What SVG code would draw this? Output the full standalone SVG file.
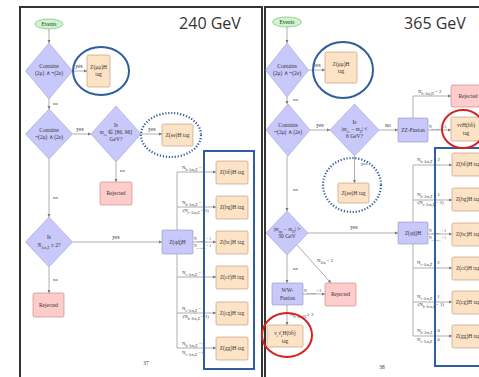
<svg xmlns="http://www.w3.org/2000/svg" width="479" height="377" viewBox="0 0 479 377">
<defs>
<marker id="ah" viewBox="0 0 6 6" refX="6" refY="3" markerWidth="4" markerHeight="4" orient="auto"><path d="M0,0 L6,3 L0,6 z" fill="#777"/></marker>
<style>
text{font-family:"Liberation Serif",serif;font-size:5.5px;fill:#333;text-anchor:middle}
.lab{font-size:4.8px;text-anchor:start}
.s{font-size:3.5px}
.ttl{font-family:"Open Sans",sans-serif;font-size:16px;fill:#333;text-anchor:middle}
.dia{fill:#c8c8fa;stroke:#a0a0d0;stroke-width:0.6}
.lav{fill:#c8c8fa;stroke:#9090c0;stroke-width:0.6}
.org{fill:#fde3c6;stroke:#c09070;stroke-width:0.6}
.rej{fill:#ffcccc;stroke:#c08080;stroke-width:0.6}
.evt{fill:#ccf5cc;stroke:#70b070;stroke-width:0.6}
.ln{stroke:#999;stroke-width:0.8;fill:none}
.ar{stroke:#999;stroke-width:0.8;fill:none;marker-end:url(#ah)}
.be{fill:none;stroke:#2f5d9e;stroke-width:2}
.bd{fill:none;stroke:#2f5d9e;stroke-width:2.2;stroke-dasharray:1.2 1.8}
.re{fill:none;stroke:#d82020;stroke-width:2}
.pg{stroke:#333;stroke-width:2;fill:none}
</style>
</defs>
<rect width="479" height="377" fill="#fff"/>
<g id="pages">
<path class="pg" d="M20,377 V7 H262 V377"/>
<path class="pg" d="M265,377 V7 H479"/>
<text class="ttl" x="210" y="29">240 GeV</text>
<text class="ttl" x="435" y="29">365 GeV</text>
<text x="146" y="365">37</text>
<text x="382" y="369">38</text>
</g>
<g id="connectors">
<path class="ar" d="M49,29 V43"/>
<path class="ar" d="M72.5,71 H87"/>
<path class="ar" d="M49,99 V109"/>
<path class="ar" d="M72.5,134 H91"/>
<path class="ar" d="M141,134 H162"/>
<path class="ar" d="M116,162 V182"/>
<path class="ar" d="M49,159 V217"/>
<path class="ar" d="M72.5,242 H162"/>
<path class="ar" d="M49,267 V293"/>
<path class="ln" d="M177,230 V172 M177,254 V348"/>
<path class="ar" d="M177,172 H216"/>
<path class="ar" d="M177,207 H216"/>
<path class="ar" d="M193,242 H216"/>
<path class="ar" d="M177,277 H216"/>
<path class="ar" d="M177,313 H216"/>
<path class="ar" d="M177,348 H216"/>
<path class="ar" d="M287,27 V43"/>
<path class="ar" d="M308.5,70 H325"/>
<path class="ar" d="M287,97 V104"/>
<path class="ar" d="M310,130 H330"/>
<path class="ar" d="M379,130 H398"/>
<path class="ar" d="M413,118 V96 H451"/>
<path class="ar" d="M428,130 H451"/>
<path class="ar" d="M354.5,156 V183"/>
<path class="ar" d="M287,156 V211"/>
<path class="ar" d="M308,233 H398"/>
<path class="ln" d="M413,222 V165 M413,244 V336"/>
<path class="ar" d="M413,165 H452"/>
<path class="ar" d="M413,200 H452"/>
<path class="ar" d="M428,234 H452"/>
<path class="ar" d="M413,268 H452"/>
<path class="ar" d="M413,302 H452"/>
<path class="ar" d="M413,336 H452"/>
<path class="ar" d="M287,255 V283"/>
<path class="ar" d="M297,245 L331,283"/>
<path class="ar" d="M303,294 H325"/>
<path class="ar" d="M287,305 V325"/>
<text x="79" y="68">yes</text>
<text x="53" y="105" class="lab">no</text>
<text x="80" y="131">yes</text>
<text x="152" y="131">yes</text>
<text x="120" y="172" class="lab">no</text>
<text x="53" y="199" class="lab">no</text>
<text x="116" y="239">yes</text>
<text x="53" y="281" class="lab">no</text>
<text class="lab" x="182" y="169">N<tspan class="s" baseline-shift="sub">b−Jets,Z</tspan> = 2</text>
<text class="lab" x="182" y="204">N<tspan class="s" baseline-shift="sub">b−Jets,Z</tspan> = 1</text>
<text class="lab" x="180" y="212">¬(N<tspan class="s" baseline-shift="sub">c−Jets,Z</tspan> = 1)</text>
<text class="lab" x="194" y="240" style="font-size:3.6px">N<tspan class="s" style="font-size:2.6px" baseline-shift="sub">c−Jets,Z</tspan> = 1</text>
<text class="lab" x="194" y="247" style="font-size:3.6px">N<tspan class="s" style="font-size:2.6px" baseline-shift="sub">b−Jets,Z</tspan> = 1</text>
<text class="lab" x="182" y="274">N<tspan class="s" baseline-shift="sub">c−Jets,Z</tspan> = 2</text>
<text class="lab" x="182" y="310">N<tspan class="s" baseline-shift="sub">c−Jets,Z</tspan> = 1</text>
<text class="lab" x="180" y="318">¬(N<tspan class="s" baseline-shift="sub">b−Jets,Z</tspan> = 1)</text>
<text class="lab" x="182" y="345">N<tspan class="s" baseline-shift="sub">b−Jets,Z</tspan> = 0</text>
<text class="lab" x="182" y="354">N<tspan class="s" baseline-shift="sub">c−Jets,Z</tspan> = 0</text>
<text x="317" y="67">yes</text>
<text x="293" y="101" class="lab">no</text>
<text x="320" y="127">yes</text>
<text x="388" y="127">no</text>
<text class="lab" x="418" y="93">N<tspan class="s" baseline-shift="sub">b−Jets,H</tspan> &lt; 2</text>
<text class="lab" x="429" y="128" style="font-size:3.6px">N<tspan class="s" style="font-size:2.6px" baseline-shift="sub">b−Jets,H</tspan> ≥ 2</text>
<text x="361" y="165" class="lab">yes</text>
<text x="293" y="191" class="lab">no</text>
<text x="354" y="229">yes</text>
<text class="lab" x="417" y="161">N<tspan class="s" baseline-shift="sub">b−Jets,Z</tspan> = 2</text>
<text class="lab" x="417" y="196">N<tspan class="s" baseline-shift="sub">b−Jets,Z</tspan> = 1</text>
<text class="lab" x="415" y="204">¬(N<tspan class="s" baseline-shift="sub">c−Jets,Z</tspan> = 1)</text>
<text class="lab" x="429" y="232" style="font-size:3.6px">N<tspan class="s" style="font-size:2.6px" baseline-shift="sub">c−Jets,Z</tspan> = 1</text>
<text class="lab" x="429" y="239" style="font-size:3.6px">N<tspan class="s" style="font-size:2.6px" baseline-shift="sub">b−Jets,Z</tspan> = 1</text>
<text class="lab" x="417" y="264">N<tspan class="s" baseline-shift="sub">c−Jets,Z</tspan> = 2</text>
<text class="lab" x="417" y="298">N<tspan class="s" baseline-shift="sub">c−Jets,Z</tspan> = 1</text>
<text class="lab" x="415" y="306">¬(N<tspan class="s" baseline-shift="sub">b−Jets,Z</tspan> = 1)</text>
<text class="lab" x="417" y="332">N<tspan class="s" baseline-shift="sub">b−Jets,Z</tspan> = 0</text>
<text class="lab" x="417" y="341">N<tspan class="s" baseline-shift="sub">c−Jets,Z</tspan> = 0</text>
<text x="293" y="270" class="lab">no</text>
<text class="lab" x="317" y="262">N<tspan class="s" baseline-shift="sub">Jets</tspan> &lt; 2</text>
<text class="lab" x="304" y="292" style="font-size:3.6px">N<tspan class="s" style="font-size:2.6px" baseline-shift="sub">b−Jets,H</tspan> &lt; 2</text>
<text class="lab" x="290" y="316">N<tspan class="s" baseline-shift="sub">b−Jets,H</tspan> ≥ 2</text>
</g>
<g id="L_events"><ellipse class="evt" cx="49" cy="24" rx="14" ry="5"/><text x="49" y="26">Events</text></g>
<g id="L_d1"><polygon class="dia" points="49,43 72.5,71 49,99 25.5,71"/><text x="49" y="68">Contains</text><text x="49" y="75">(2μ) ∧ ¬(2e)</text></g>
<g id="L_zmm"><rect class="org" x="87" y="55" width="23" height="32" rx="1.5"/><text x="98.5" y="69">Z(μμ)H</text><text x="98.5" y="76">tag</text></g>
<g id="L_d2"><polygon class="dia" points="49,109 72.5,134 49,159 25.5,134"/><text x="49" y="132">Contains</text><text x="49" y="139">¬(2μ) ∧ (2e)</text></g>
<g id="L_d3"><polygon class="dia" points="116,106 141,134 116,162 91,134"/><text x="116" y="127">Is</text><text x="116" y="134"><tspan font-style="italic">m</tspan><tspan class="s" baseline-shift="sub">ee</tspan> ∈ [86, 96]</text><text x="116" y="141">GeV?</text></g>
<g id="L_zee"><rect class="org" x="162" y="124" width="31" height="22" rx="1.5"/><text x="177.5" y="137">Z(ee)H tag</text></g>
<g id="L_rej1"><rect class="rej" x="100" y="182" width="32" height="23" rx="1.5"/><text x="116" y="195">Rejected</text></g>
<g id="L_d4"><polygon class="dia" points="49,217 72.5,242 49,267 25.5,242"/><text x="49" y="239">Is</text><text x="49" y="247"><tspan font-style="italic">N</tspan><tspan class="s" baseline-shift="sub">Jets,Z</tspan> ≥ 2?</text></g>
<g id="L_rej2"><rect class="rej" x="33" y="293" width="31" height="24" rx="1.5"/><text x="48.5" y="307">Rejected</text></g>
<g id="L_zqq"><rect class="lav" x="162" y="230" width="31" height="24" rx="1"/><text x="177.5" y="244">Z(qq̄)H</text></g>
<g id="L_zbb"><rect class="org" x="216" y="161" width="32" height="23" rx="1.5"/><text x="232" y="174">Z(bb̄)H tag</text></g>
<g id="L_zbg"><rect class="org" x="216" y="196" width="32" height="23" rx="1.5"/><text x="232" y="209">Z(bg)H tag</text></g>
<g id="L_zbc"><rect class="org" x="216" y="231" width="32" height="23" rx="1.5"/><text x="232" y="244">Z(bc)H tag</text></g>
<g id="L_zcc"><rect class="org" x="216" y="266" width="32" height="23" rx="1.5"/><text x="232" y="279">Z(cc̄)H tag</text></g>
<g id="L_zcg"><rect class="org" x="216" y="302" width="32" height="23" rx="1.5"/><text x="232" y="315">Z(cg)H tag</text></g>
<g id="L_zgg"><rect class="org" x="216" y="337" width="32" height="23" rx="1.5"/><text x="232" y="350">Z(gg)H tag</text></g>
<g id="R_events"><ellipse class="evt" cx="287" cy="22" rx="14.5" ry="5"/><text x="287" y="24">Events</text></g>
<g id="R_d1"><polygon class="dia" points="287,43 308.5,70 287,97 265.5,70"/><text x="287" y="68">Contains</text><text x="287" y="75">(2μ) ∧ ¬(2e)</text></g>
<g id="R_zmm"><rect class="org" x="325" y="52" width="32" height="31" rx="1.5"/><text x="341" y="66">Z(μμ)H</text><text x="341" y="73">tag</text></g>
<g id="R_d2"><polygon class="dia" points="288,104 310,130 288,156 266,130"/><text x="288" y="127">Contains</text><text x="288" y="134">¬(2μ) ∧ (2e)</text></g>
<g id="R_d3"><polygon class="dia" points="354.5,104 379,130 354.5,156 330,130"/><text x="354.5" y="124">Is</text><text x="354.5" y="131">|<tspan font-style="italic">m</tspan><tspan class="s" baseline-shift="sub">ee</tspan> − <tspan font-style="italic">m</tspan><tspan class="s" baseline-shift="sub">Z</tspan>| &lt;</text><text x="354.5" y="138">6 GeV?</text></g>
<g id="R_zz"><rect class="lav" x="398" y="118" width="30" height="24" rx="1"/><text x="413" y="132">ZZ-Fusion</text></g>
<g id="R_rej1"><rect class="rej" x="451" y="85" width="34" height="22" rx="1.5"/><text x="468" y="98">Rejected</text></g>
<g id="R_nnh"><rect class="org" x="451" y="117" width="34" height="24" rx="1.5"/><text x="466" y="127">ννH(bb̄)</text><text x="466" y="135">tag</text></g>
<g id="R_zee"><rect class="org" x="338" y="183" width="31" height="20" rx="1.5"/><text x="353.5" y="195">Z(ee)H tag</text></g>
<g id="R_d4"><polygon class="dia" points="287,211 308,233 287,255 266,233"/><text x="287" y="231">|<tspan font-style="italic">m</tspan><tspan class="s" baseline-shift="sub">qq</tspan> − <tspan font-style="italic">m</tspan><tspan class="s" baseline-shift="sub">H</tspan>| &gt;</text><text x="287" y="238">30 GeV</text></g>
<g id="R_zqq"><rect class="lav" x="398" y="222" width="30" height="22" rx="1"/><text x="413" y="235">Z(qq̄)H</text></g>
<g id="R_zbb"><rect class="org" x="452" y="153" width="34" height="23" rx="1.5"/><text x="468" y="166">Z(bb̄)H tag</text></g>
<g id="R_zbg"><rect class="org" x="452" y="188" width="34" height="23" rx="1.5"/><text x="468" y="201">Z(bg)H tag</text></g>
<g id="R_zbc"><rect class="org" x="452" y="223" width="34" height="23" rx="1.5"/><text x="468" y="236">Z(bc)H tag</text></g>
<g id="R_zcc"><rect class="org" x="452" y="257" width="34" height="23" rx="1.5"/><text x="468" y="270">Z(cc̄)H tag</text></g>
<g id="R_zcg"><rect class="org" x="452" y="291" width="34" height="23" rx="1.5"/><text x="468" y="304">Z(cg)H tag</text></g>
<g id="R_zgg"><rect class="org" x="452" y="325" width="34" height="23" rx="1.5"/><text x="468" y="338">Z(gg)H tag</text></g>
<g id="R_ww"><rect class="lav" x="272" y="283" width="31" height="22" rx="1"/><text x="287.5" y="292">WW-</text><text x="287.5" y="300">Fusion</text></g>
<g id="R_rej2"><rect class="rej" x="325" y="283" width="31" height="23" rx="1.5"/><text x="340.5" y="296">Rejected</text></g>
<g id="R_nenh"><rect class="org" x="267" y="325" width="36" height="22" rx="1.5"/><text x="285" y="335">ν<tspan class="s" baseline-shift="sub">e</tspan>ν̄<tspan class="s" baseline-shift="sub">e</tspan>H(bb̄)</text><text x="285" y="343">tag</text></g>
<g id="annotations">
<ellipse class="be" cx="101" cy="71" rx="28" ry="24"/>
<ellipse class="bd" cx="171" cy="135" rx="30" ry="22"/>
<rect class="be" x="204" y="151" width="50" height="218"/>
<ellipse class="be" cx="343" cy="70" rx="30" ry="28"/>
<ellipse class="bd" cx="352" cy="185" rx="29" ry="27"/>
<rect class="be" x="435" y="148" width="60" height="218"/>
<ellipse class="re" cx="463" cy="129" rx="21" ry="19"/>
<ellipse class="re" cx="287" cy="335" rx="25" ry="22"/>
</g>
</svg>
